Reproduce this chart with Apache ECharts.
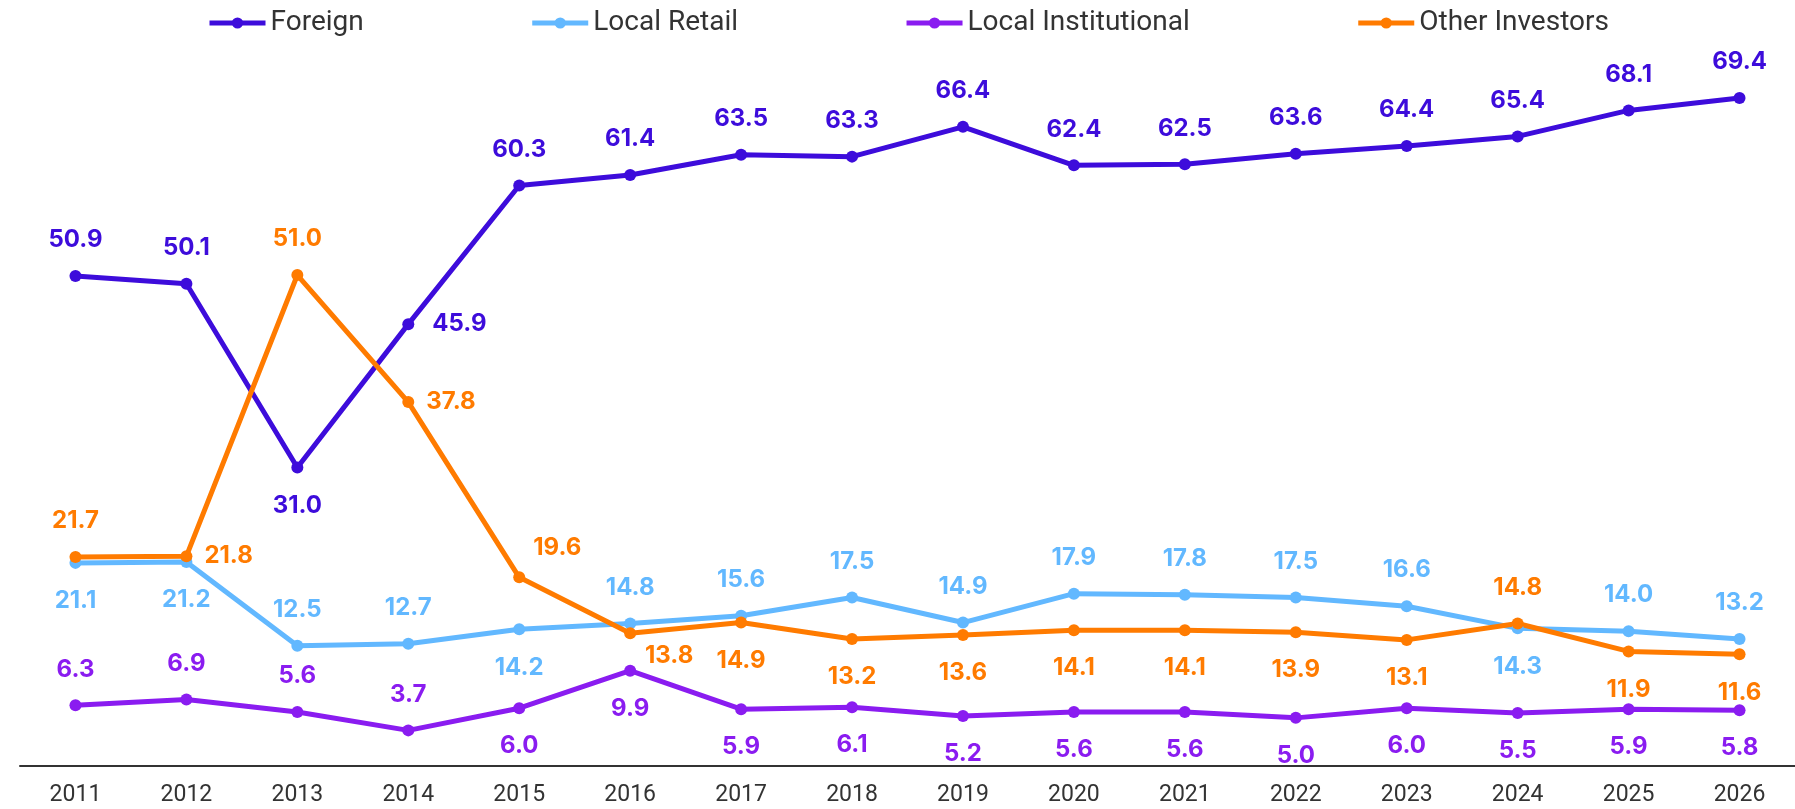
<!DOCTYPE html>
<html>
<head>
<meta charset="utf-8">
<script src="https://cdn.jsdelivr.net/npm/echarts@6/dist/echarts.min.js"></script>
<style>
  html, body {
    margin: 0;
    padding: 0;
    background: #ffffff;
  }
  #investor-chart {
    width: 1795px;
    height: 809px;
  }
</style>
</head>
<body>
<div id="investor-chart"></div>
<script>
const years = ['2011', '2012', '2013', '2014', '2015', '2016', '2017', '2018',
  '2019', '2020', '2021', '2022', '2023', '2024', '2025', '2026']

const foreign = [50.9, 50.1, 31.0, 45.9, 60.3, 61.4, 63.5, 63.3, 66.4, 62.4, 62.5, 63.6, 64.4, 65.4, 68.1, 69.4]
const localRetail = [21.1, 21.2, 12.5, 12.7, 14.2, 14.8, 15.6, 17.5, 14.9, 17.9, 17.8, 17.5, 16.6, 14.3, 14.0, 13.2]
const localInstitutional = [6.3, 6.9, 5.6, 3.7, 6.0, 9.9, 5.9, 6.1, 5.2, 5.6, 5.6, 5.0, 6.0, 5.5, 5.9, 5.8]
const otherInvestors = [21.7, 21.8, 51.0, 37.8, 19.6, 13.8, 14.9, 13.2, 13.6, 14.1, 14.1, 13.9, 13.1, 14.8, 11.9, 11.6]

// where each value label sits: t = above, b = below, r / R = right, tr / br = shifted right
const foreignPlace = ['t', 't', 'b', 'R', 't', 't', 't', 't', 't', 't', 't', 't', 't', 't', 't', 't']
const retailPlace = ['b', 'b', 't', 't', 'b', 't', 't', 't', 't', 't', 't', 't', 't', 'b', 't', 't']
const institutionalPlace = ['t', 't', 't', 't', 'b', 'b', 'b', 'b', 'b', 'b', 'b', 'b', 'b', 'b', 'b', 'b']
const otherPlace = ['t', 'r', 't', 'r', 'tr', 'br', 'b', 'b', 'b', 'b', 'b', 'b', 'b', 't', 'b', 'b']

const labelFor = (code) => {
  switch (code) {
    case 'b':
      return {position: 'bottom', distance: 20}
    case 'r':
      return {position: 'right', distance: 12}
    case 'R':
      return {position: 'right', distance: 18}
    case 'tr':
      return {position: 'top', distance: 17, offset: [38, 5]}
    case 'br':
      return {position: 'bottom', distance: 19, offset: [39, -14]}
    default:
      return {position: 'top', distance: 18}
  }
}

const makeSeries = (name, values, places, color) => ({
  name: name,
  type: 'line',
  data: values.map((v, i) => ({value: v, label: labelFor(places[i])})),
  symbol: 'circle',
  symbolSize: 12,
  lineStyle: {
    width: 5,
    color: color
  },
  itemStyle: {
    color: color
  },
  label: {
    show: true,
    color: color,
    fontFamily: 'Inter',
    fontWeight: 'bold',
    fontSize: 24,
    formatter: (p) => p.value.toFixed(1)
  },
  emphasis: {
    disabled: true
  },
  animation: false
})

const chart = echarts.init(document.getElementById('investor-chart'))

chart.setOption({
  animation: false,
  legend: {
    top: 4,
    left: 202,
    itemWidth: 56,
    itemHeight: 14,
    itemGap: 166,
    lineStyle: {
      width: 5
    },
    textStyle: {
      fontFamily: 'Roboto',
      fontSize: 28,
      color: '#333333'
    },
    data: ['Foreign', 'Local Retail', 'Local Institutional', 'Other Investors']
  },
  grid: {
    top: 44,
    left: 20,
    right: -11,
    bottom: 43
  },
  xAxis: {
    type: 'category',
    data: years,
    boundaryGap: true,
    axisLine: {
      onZero: false,
      lineStyle: {
        color: '#333333',
        width: 2
      }
    },
    axisTick: {
      length: 11,
      lineStyle: {
        color: '#333333',
        width: 2
      }
    },
    axisLabel: {
      margin: 18,
      fontFamily: 'Roboto',
      fontSize: 23,
      color: '#333333'
    }
  },
  yAxis: {
    type: 'value',
    min: 0,
    max: 75,
    show: false
  },
  series: [
    makeSeries('Foreign', foreign, foreignPlace, '#3d0cdb'),
    makeSeries('Local Retail', localRetail, retailPlace, '#62b8ff'),
    makeSeries('Local Institutional', localInstitutional, institutionalPlace, '#8a1cf0'),
    makeSeries('Other Investors', otherInvestors, otherPlace, '#ff7b00')
  ]
})
</script>
</body>
</html>
